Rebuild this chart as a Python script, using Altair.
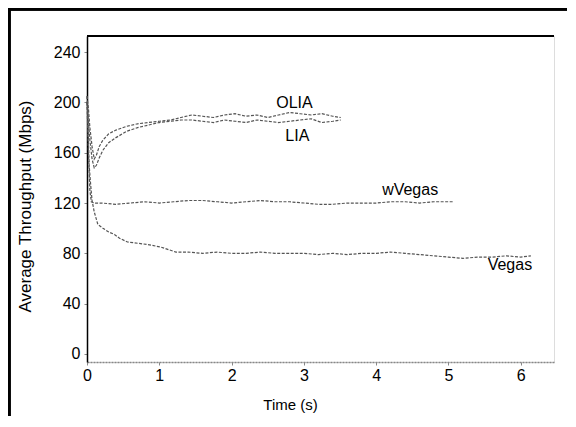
import altair as alt
import pandas as pd

# ---- data ----
vegas_t = [0, 0.01, 0.02, 0.03, 0.05, 0.07, 0.1, 0.15, 0.22, 0.3, 0.38, 0.45, 0.56, 0.7, 0.84,
           1.02, 1.23, 1.4, 1.6, 1.8, 2.0, 2.2, 2.4, 2.6, 2.8, 3.0, 3.2, 3.4, 3.6, 3.8, 4.0,
           4.2, 4.4, 4.6, 4.8, 5.0, 5.2, 5.4, 5.6, 5.8, 6.0, 6.14]
vegas_v = [205, 190, 170, 150, 135, 122, 113, 103, 100, 97, 95, 92, 89, 88, 87,
           85, 81, 81, 80, 81, 80, 80, 81, 80, 80, 80, 79, 80, 79, 80, 80,
           81, 80, 79, 78, 77, 76, 77, 77, 78, 77, 78]

wvegas_t = [0, 0.02, 0.04, 0.06, 0.1, 0.2, 0.4, 0.6, 0.8, 1.0, 1.2, 1.4, 1.6, 1.8, 2.0, 2.2,
            2.4, 2.6, 2.8, 3.0, 3.2, 3.4, 3.6, 3.8, 4.0, 4.2, 4.4, 4.6, 4.8, 5.06]
wvegas_v = [200, 160, 130, 121, 120, 120, 119, 120, 121, 120, 121, 122, 122, 121, 120, 121,
            122, 121, 121, 120, 119, 119, 120, 120, 120, 121, 121, 120, 121, 121]

lia_t = [0, 0.02, 0.04, 0.07, 0.1, 0.13, 0.17, 0.22, 0.3, 0.4, 0.55, 0.7, 0.85, 1.0, 1.15,
         1.3, 1.45, 1.6, 1.75, 1.9, 2.05, 2.2, 2.35, 2.5, 2.65, 2.8, 2.95, 3.1, 3.25, 3.4, 3.51]
olia_v = [205, 195, 180, 165, 155, 158, 165, 170, 175, 178, 181, 183, 184, 185, 186,
          188, 190, 189, 188, 190, 191, 189, 190, 188, 190, 192, 191, 190, 191, 189, 188]
lia_v = [200, 185, 170, 155, 148, 150, 156, 162, 168, 172, 177, 180, 182, 184, 185,
         186, 186, 185, 184, 186, 185, 184, 186, 185, 184, 185, 186, 187, 184, 185, 186]

label_text = ["OLIA", "LIA", "wVegas", "Vegas"]
label_t = [2.87, 2.91, 4.47, 5.85]
label_v = [199.5, 173, 130, 71]

y_ticks = [0, 40, 80, 120, 160, 200, 240]
x_ticks = [0, 1, 2, 3, 4, 5, 6]

# ---- tables ----
rows = []
for name, ts, vs in [("Vegas", vegas_t, vegas_v), ("wVegas", wvegas_t, wvegas_v),
                     ("OLIA", lia_t, olia_v), ("LIA", lia_t, lia_v)]:
    for t, v in zip(ts, vs):
        rows.append({"series": name, "t": t, "v": v})
df = pd.DataFrame(rows)
labels = pd.DataFrame({"text": label_text, "t": label_t, "v": label_v})

W, H = 467, 326
FONT = "Liberation Sans"

xs = alt.Scale(domain=[0, 6.46], nice=False, zero=False)
ys = alt.Scale(domain=[-6.4, 252.8], nice=False, zero=False)

lines = alt.Chart(df).mark_line(color="#555", strokeWidth=1.2, strokeDash=[3, 1.5]).encode(
    x=alt.X("t:Q", scale=xs,
            axis=alt.Axis(title="Time (s)", values=x_ticks, format="d", labelFlush=False,
                          grid=False, tickSize=3,
                          domainColor="#888", domainDash=[2, 1], domainWidth=1.5,
                          tickColor="#888", labelFontSize=16, labelPadding=2,
                          labelColor="black", labelFont=FONT, titleFont=FONT,
                          titleFontSize=15, titleFontWeight="normal", titleColor="black",
                          titleX=203, titleY=42, titleBaseline="middle")),
    y=alt.Y("v:Q", scale=ys,
            axis=alt.Axis(title="Average Throughput (Mbps)", values=y_ticks, grid=False,
                          labelFlush=False,
                          tickSize=3, domainColor="black", domainWidth=1.5,
                          tickColor="#888", labelFontSize=16, labelPadding=4,
                          labelColor="black", labelFont=FONT, titleFont=FONT,
                          titleFontSize=17, titleFontWeight="normal", titleColor="black",
                          titleX=-62, titleY=170, titleAngle=270, titleAlign="center",
                          titleBaseline="middle")),
    detail="series:N",
)

texts = alt.Chart(labels).mark_text(font=FONT, fontSize=16, color="black").encode(
    x=alt.X("t:Q", scale=xs), y=alt.Y("v:Q", scale=ys), text="text:N")

top_rule = alt.Chart(labels).mark_rule(color="black", strokeWidth=2).encode(
    x=alt.value(0), x2=alt.value(W), y=alt.value(0))

frame_top = alt.Chart(labels).mark_rule(color="black", strokeWidth=3).encode(
    x=alt.value(-79), x2=alt.value(480), y=alt.value(-27))
frame_left = alt.Chart(labels).mark_rule(color="black", strokeWidth=3).encode(
    x=alt.value(-78), y=alt.value(-28), y2=alt.value(H + 54))

chart = alt.layer(lines, texts, top_rule, frame_top, frame_left).properties(
    width=W, height=H,
    autosize=alt.AutoSizeParams(type="none"),
    padding={"left": 79, "top": 28, "right": 14, "bottom": 54},
).configure_view(stroke="transparent").configure(background="white")

chart.save("out.html", embed_options={"renderer": "svg", "actions": False})
